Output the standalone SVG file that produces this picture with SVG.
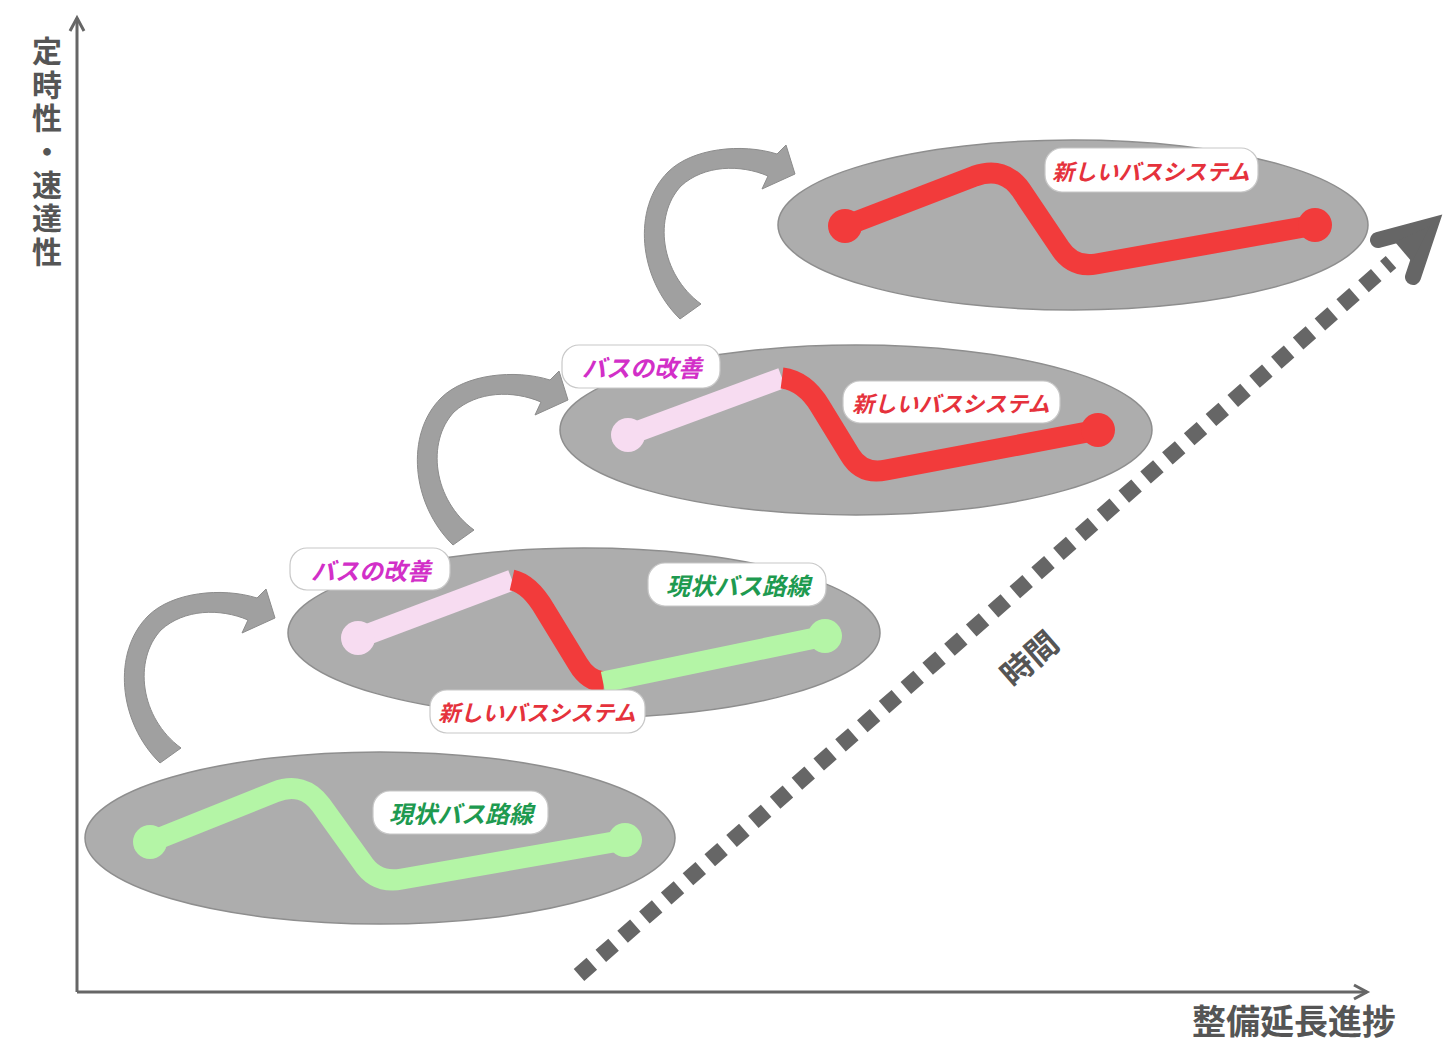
<svg xmlns="http://www.w3.org/2000/svg" xmlns:xlink="http://www.w3.org/1999/xlink" width="1443" height="1041" viewBox="0 0 1443 1041">
<style>
.ax{stroke:#666;stroke-width:3;fill:none}
.axt{font-family:"Noto Sans CJK JP","Noto Sans",sans-serif;font-weight:700;fill:#555}
.ell{fill:#adadad;stroke:#8e8e8e;stroke-width:1.5}
.rt{fill:none;stroke-width:21;stroke-linejoin:round;stroke-linecap:butt}
.g{stroke:#b4f5a6}.gf{fill:#b4f5a6}
.r{stroke:#f23b3b}.rf{fill:#f23b3b}
.p{stroke:#f7dcf1}.pf{fill:#f7dcf1}
.box{fill:#fff;stroke:#c8c8c8;stroke-width:1.2}
.lt{font-family:"Noto Sans CJK JP","Noto Sans",sans-serif;font-weight:700;font-style:italic;font-size:22px;text-anchor:middle;dominant-baseline:central}
.lg{fill:#1e9a50;font-size:24px}.lr{fill:#e5323c}.lm{fill:#d22fc8;font-size:24px}
.carrow{fill:#a0a0a0;stroke:#8c8c8c;stroke-width:1}
</style>
<defs>
<path id="curv" d="M160,763 C118,722 112,652 148,616 C172,592 222,587 257,598 L266,589 L275,618 L242,633 L248,620 C220,608 184,609 161,630 C133,660 140,718 181,748 Z"/>
</defs>

<g id="axes">
<line class="ax" x1="77" y1="992" x2="77" y2="18"/>
<polyline class="ax" points="70,31 77,18 84,31"/>
<line class="ax" x1="77" y1="992" x2="1367" y2="992"/>
<polyline class="ax" points="1354,985 1367,992 1354,999"/>
<text class="axt" x="47" y="36" font-size="30" writing-mode="vertical-rl" letter-spacing="3.4">定時性・速達性</text>
<text class="axt" x="1294" y="1019" font-size="34" text-anchor="middle" dominant-baseline="central">整備延長進捗</text>
</g>

<g id="connectors">
<use href="#curv" class="carrow"/>
<use href="#curv" class="carrow" transform="translate(293,-218)"/>
<use href="#curv" class="carrow" transform="translate(520,-444)"/>
<g id="time-arrow">
<line x1="579" y1="975" x2="1391" y2="262" stroke="#666" stroke-width="16" stroke-dasharray="17 12"/>
<path d="M1378,240 L1430,226 L1413,277" fill="none" stroke="#666" stroke-width="16" stroke-linecap="round" stroke-linejoin="miter"/>
<polygon points="1395,242 1430,226 1412,262" fill="#666"/>
<text class="axt" x="1028" y="657" font-size="32" text-anchor="middle" dominant-baseline="central" transform="rotate(-41 1028 657)">時間</text>
</g>
</g>

<g id="stage1">
<ellipse class="ell" cx="380" cy="838" rx="295" ry="86"/>
<path class="rt g" d="M150,842 L275,792 Q303,781 321,805 L362,862 Q376,884 402,879 L625,840"/>
<circle class="gf" cx="150" cy="842" r="17"/>
<circle class="gf" cx="625" cy="840" r="17"/>
<g id="label-s1-current"><rect class="box" x="373" y="791" width="175" height="43" rx="17"/><text class="lt lg" x="461" y="812">現状バス路線</text></g>
</g>

<g id="stage2">
<ellipse class="ell" cx="584" cy="633" rx="296" ry="85"/>
<path class="rt p" d="M358,638 L512,580"/>
<circle class="pf" cx="358" cy="638" r="17"/>
<path class="rt r" d="M512,580 Q530,584 545,610 L578,664 Q588,681 604,682"/>
<path class="rt g" d="M603,682 L825,636"/>
<circle class="gf" cx="825" cy="636" r="17"/>
<g id="label-s2-improve"><rect class="box" x="290" y="548" width="160" height="42" rx="17"/><text class="lt lm" x="371" y="569">バスの改善</text></g>
<g id="label-s2-current"><rect class="box" x="648" y="563" width="178" height="43" rx="17"/><text class="lt lg" x="738" y="584">現状バス路線</text></g>
<g id="label-s2-new"><rect class="box" x="430" y="690" width="215" height="43" rx="17"/><text class="lt lr" x="537" y="711">新しいバスシステム</text></g>
</g>

<g id="stage3">
<ellipse class="ell" cx="856" cy="430" rx="296" ry="85"/>
<path class="rt p" d="M628,435 L782,378"/>
<circle class="pf" cx="628" cy="435" r="17"/>
<path class="rt r" d="M782,378 Q805,381 820,406 L850,455 Q862,475 886,470 L1098,430"/>
<circle class="rf" cx="1098" cy="430" r="17"/>
<g id="label-s3-improve"><rect class="box" x="562" y="345" width="158" height="43" rx="17"/><text class="lt lm" x="642" y="366">バスの改善</text></g>
<g id="label-s3-new"><rect class="box" x="843" y="381" width="217" height="42" rx="17"/><text class="lt lr" x="951" y="402">新しいバスシステム</text></g>
</g>

<g id="stage4">
<ellipse class="ell" cx="1073" cy="225" rx="295" ry="85"/>
<path class="rt r" d="M845,226 L975,176 Q1004,166 1021,190 L1060,248 Q1073,268 1096,264 L1315,225"/>
<circle class="rf" cx="845" cy="226" r="17"/>
<circle class="rf" cx="1315" cy="225" r="17"/>
<g id="label-s4-new"><rect class="box" x="1045" y="148" width="213" height="44" rx="17"/><text class="lt lr" x="1151" y="170">新しいバスシステム</text></g>
</g>
</svg>
